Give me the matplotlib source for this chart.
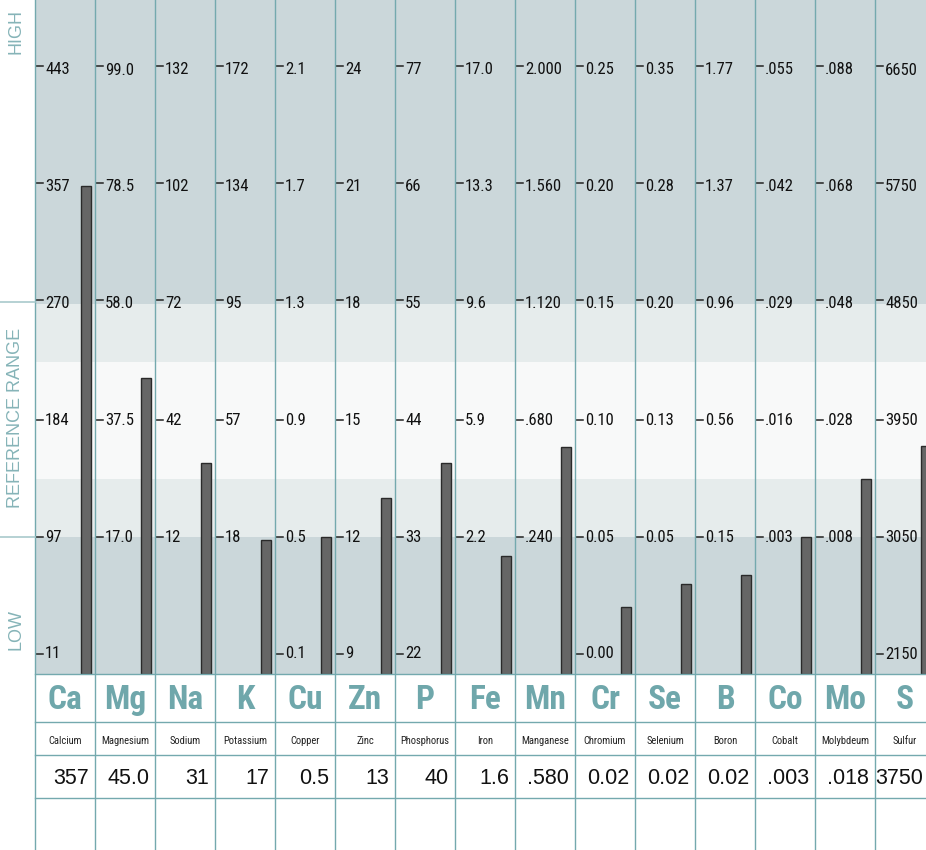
import matplotlib
matplotlib.use("Agg")
import matplotlib.pyplot as plt
import matplotlib.transforms as mtransforms
from matplotlib.lines import Line2D

plt.rcParams['font.family'] = ['Roboto Condensed', 'Liberation Sans', 'DejaVu Sans']

# element data
symbols = ["Ca", "Mg", "Na", "K", "Cu", "Zn", "P", "Fe", "Mn", "Cr", "Se", "B", "Co", "Mo", "S"]
names = ["Calcium", "Magnesium", "Sodium", "Potassium", "Copper", "Zinc", "Phosphorus", "Iron",
         "Manganese", "Chromium", "Selenium", "Boron", "Cobalt", "Molybdeum", "Sulfur"]
results = [357, 45.0, 31, 17, 0.5, 13, 40, 1.6, 0.580, 0.02, 0.02, 0.02, 0.003, 0.018, 3750]
result_labels = ["357", "45.0", "31", "17", "0.5", "13", "40", "1.6", ".580", "0.02", "0.02",
                 "0.02", ".003", ".018", "3750"]
ref_low = [97, 17.0, 12, 18, 0.5, 12, 33, 2.2, 0.240, 0.05, 0.05, 0.15, 0.003, 0.008, 3050]
ref_high = [270, 58.0, 72, 95, 1.3, 18, 55, 9.6, 1.120, 0.15, 0.20, 0.96, 0.029, 0.048, 4850]
tick_labels = [
    ["11", "97", "184", "270", "357", "443"],
    ["", "17.0", "37.5", "58.0", "78.5", "99.0"],
    ["", "12", "42", "72", "102", "132"],
    ["", "18", "57", "95", "134", "172"],
    ["0.1", "0.5", "0.9", "1.3", "1.7", "2.1"],
    ["9", "12", "15", "18", "21", "24"],
    ["22", "33", "44", "55", "66", "77"],
    ["", "2.2", "5.9", "9.6", "13.3", "17.0"],
    ["", ".240", ".680", "1.120", "1.560", "2.000"],
    ["0.00", "0.05", "0.10", "0.15", "0.20", "0.25"],
    ["", "0.05", "0.13", "0.20", "0.28", "0.35"],
    ["", "0.15", "0.56", "0.96", "1.37", "1.77"],
    ["", ".003", ".016", ".029", ".042", ".055"],
    ["", ".008", ".028", ".048", ".068", ".088"],
    ["2150", "3050", "3950", "4850", "5750", "6650"],
]

# layout (pixels)
W, H = 926, 850
X0, COL = 35, 60
PLOT_BOTTOM = 674
IDX0_PX, IDX_PX = 654, 116.8
TEAL = "#74a9ae"
DARK, LIGHT, WHITE = "#cbd7da", "#e6ecec", "#f8f9f9"

fig = plt.figure(figsize=(W / 100, H / 100), dpi=100)

def fx(px):
    return px / W

def fy(py):
    return 1 - py / H

idx_lo = -(PLOT_BOTTOM - IDX0_PX) / IDX_PX
idx_hi = IDX0_PX / IDX_PX
bands = [(idx_lo, 1, DARK), (1, 1.5, LIGHT), (1.5, 2.5, WHITE), (2.5, 3, LIGHT), (3, idx_hi, DARK)]

for i, sym in enumerate(symbols):
    left = X0 + COL * i
    ax = fig.add_axes([fx(left), fy(PLOT_BOTTOM), fx(COL), PLOT_BOTTOM / H])
    lo, hi = ref_low[i], ref_high[i]
    step = (hi - lo) / 2
    val = lambda k: lo + (k - 1) * step
    ylo, yhi = val(idx_lo), val(idx_hi)
    ax.set_xlim(0, COL)
    ax.set_ylim(ylo, yhi)
    ax.axis("off")
    for a, b, c in bands:
        ax.axhspan(val(a), val(b), color=c, lw=0, zorder=0)
    up = mtransforms.offset_copy(ax.transData, fig=fig, x=0, y=4, units="dots")
    for k, lab in enumerate(tick_labels[i]):
        if not lab:
            continue
        t = val(k)
        ax.plot([1, 8], [t, t], color="#222222", lw=1.1, zorder=2,
                transform=up if k >= 3 else ax.transData)
        ax.text(10, t, lab, ha="left", va="center", fontsize=12, color="#111111", zorder=3)
    ax.bar(51, results[i] - ylo, bottom=ylo, width=10, color="#666666",
           edgecolor="#2a2a2a", linewidth=1, zorder=2)

    cx = left + COL / 2
    fig.text(fx(cx), fy(700), sym, ha="center", va="center", fontsize=24,
             fontweight="bold", color="#6fa7ab")
    fig.text(fx(cx), fy(741), names[i], ha="center", va="center", fontsize=7.6, color="#222222")
    fig.text(fx(min(left + 54, W - 3)), fy(778), result_labels[i], ha="right", va="center",
             fontsize=15.5, color="#111111", family=["Liberation Sans", "DejaVu Sans"])

# grid lines
for k in range(len(symbols) + 1):
    x = X0 + COL * k
    fig.add_artist(Line2D([fx(x), fx(x)], [0, 1], color=TEAL, lw=1, zorder=5))
for y in [674, 722, 755, 798]:
    fig.add_artist(Line2D([fx(X0), 1], [fy(y), fy(y)], color=TEAL, lw=1, zorder=5))
for y in [302, 537]:
    fig.add_artist(Line2D([0, fx(X0)], [fy(y), fy(y)], color="#a9c9cc", lw=1.2, zorder=5))

# side labels
side = dict(rotation=90, ha="center", va="center", fontsize=13, color="#86b4b8",
            family=["Liberation Sans", "DejaVu Sans"])
fig.text(fx(16), fy(32), "HIGH", **side)
fig.text(fx(16), fy(418), "REFERENCE RANGE", **side)
fig.text(fx(16), fy(630), "LOW", **side)

fig.savefig("out.png", dpi=100)
plt.close(fig)
